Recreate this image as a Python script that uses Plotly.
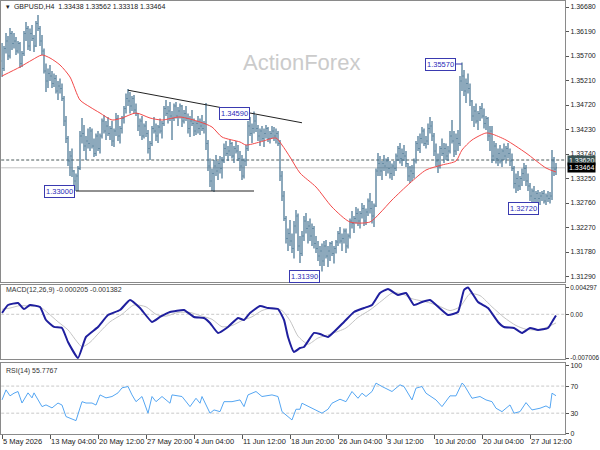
import plotly.graph_objects as go

# ---------------- DATA ----------------
# GBPUSD H4 bars, price expressed in pips above 1.30000
BASE = 1.30000
PIP = 0.0001

opens_p = [
    560, 545, 585, 600, 570, 615, 595, 600, 580, 595,
    555, 575, 615, 625, 590, 615, 605, 590, 635, 625,
    600, 580, 540, 520, 535, 530, 515, 525, 500, 510,
    505, 485, 440, 405, 360, 370, 340, 320, 330, 345,
    410, 415, 390, 400, 395, 420, 390, 375, 410, 385,
    410, 440, 420, 430, 415, 425, 400, 420, 445, 410,
    425, 445, 465, 485, 480, 470, 485, 462, 455, 430,
    440, 410, 430, 415, 385, 395, 425, 420, 410, 428,
    420, 435, 465, 455, 460, 450, 445, 470, 450, 460,
    470, 440, 455, 445, 425, 440, 435, 420, 435, 425,
    430, 425, 435, 395, 350, 320, 335, 350, 340, 355,
    345, 360, 385, 375, 380, 395, 370, 385, 380, 365,
    350, 330, 360, 385, 430, 415, 425, 440, 425, 410,
    420, 405, 415, 425, 405, 415, 420, 410, 415, 395,
    330, 290, 245, 205, 215, 200, 185, 230, 250, 190,
    175, 210, 240, 225, 230, 210, 225, 195, 185, 170,
    180, 160, 190, 170, 180, 195, 175, 185, 198, 215,
    200, 205, 220, 190, 210, 240, 235, 245, 255, 240,
    255, 265, 240, 258, 280, 265, 250, 270, 340, 355,
    340, 355, 350, 360, 345, 335, 350, 345, 370, 385,
    365, 375, 370, 355, 330, 340, 335, 360, 395, 385,
    405, 420, 395, 400, 425, 430, 410, 380, 360, 350,
    385, 375, 385, 370, 380, 410, 400, 380, 405, 395,
    520, 530, 500, 515, 505, 480, 450, 460, 440, 455,
    465, 450, 435, 445, 410, 420, 370, 390, 365, 375,
    360, 380, 370, 385, 375, 360, 345, 315, 325, 310,
    325, 335, 345, 320, 310, 290, 300, 285, 295, 285,
    290, 295, 280, 290, 285, 290, 360, 343.8,
]
highs_p = [
    596, 590, 616, 610, 626, 620, 616, 608, 600, 598,
    580, 620, 638, 630, 625, 632, 612, 640, 652, 630,
    612, 585, 555, 545, 552, 540, 535, 532, 520, 525,
    515, 490, 450, 410, 380, 385, 342, 335, 350, 420,
    446, 432, 410, 425, 428, 425, 405, 415, 420, 415,
    445, 452, 440, 448, 430, 440, 425, 456, 452, 430,
    450, 470, 495, 504, 498, 490, 492, 475, 456, 445,
    450, 435, 440, 422, 400, 430, 448, 435, 432, 445,
    440, 470, 482, 470, 478, 460, 475, 478, 468, 475,
    472, 462, 470, 455, 450, 462, 445, 440, 450, 445,
    452, 440, 476, 402, 365, 345, 362, 372, 360, 370,
    368, 395, 400, 390, 402, 398, 390, 400, 392, 380,
    372, 365, 392, 440, 448, 435, 459, 452, 432, 425,
    430, 425, 432, 428, 420, 430, 428, 425, 420, 402,
    340, 300, 250, 225, 242, 215, 240, 262, 255, 210,
    220, 250, 256, 240, 245, 235, 230, 210, 200, 190,
    195, 200, 202, 190, 198, 200, 190, 202, 220, 228,
    215, 225, 225, 215, 245, 260, 250, 268, 265, 260,
    276, 272, 265, 285, 296, 280, 275, 345, 376, 370,
    360, 372, 365, 368, 360, 355, 360, 375, 390, 396,
    385, 392, 380, 356, 350, 352, 365, 400, 410, 415,
    428, 425, 410, 435, 448, 440, 416, 395, 375, 390,
    405, 396, 395, 390, 420, 442, 420, 415, 422, 530,
    557, 542, 525, 535, 515, 482, 470, 475, 460, 470,
    476, 465, 450, 448, 430, 430, 400, 396, 385, 392,
    385, 395, 390, 396, 385, 375, 350, 335, 340, 330,
    345, 356, 352, 335, 316, 305, 310, 300, 302, 298,
    300, 302, 295, 300, 298, 382, 368, 356.2,
]
lows_p = [
    528, 540, 575, 562, 565, 582, 585, 572, 575, 546,
    548, 570, 600, 582, 580, 600, 578, 588, 620, 590,
    572, 535, 498, 506, 520, 506, 508, 495, 482, 495,
    480, 430, 396, 350, 330, 328, 305, 300, 300, 342,
    395, 380, 362, 385, 380, 385, 368, 370, 380, 375,
    405, 415, 402, 410, 402, 390, 388, 410, 400, 395,
    415, 435, 455, 470, 455, 460, 456, 450, 420, 410,
    402, 405, 408, 375, 362, 390, 415, 400, 396, 415,
    405, 430, 450, 435, 440, 402, 440, 445, 430, 445,
    428, 435, 440, 415, 408, 430, 410, 412, 415, 412,
    420, 415, 382, 340, 308, 300, 298, 330, 322, 335,
    325, 356, 370, 360, 370, 365, 356, 375, 360, 340,
    322, 325, 350, 380, 410, 396, 415, 418, 400, 390,
    400, 388, 405, 398, 395, 405, 400, 395, 390, 320,
    280, 240, 195, 180, 190, 176, 165, 215, 180, 156,
    170, 200, 215, 195, 200, 190, 185, 176, 160, 150,
    139, 150, 165, 148, 160, 170, 155, 175, 190, 195,
    180, 195, 176, 185, 205, 225, 216, 235, 230, 225,
    245, 230, 232, 250, 255, 235, 228, 268, 330, 330,
    322, 340, 330, 335, 325, 322, 330, 340, 360, 355,
    350, 360, 348, 320, 316, 320, 325, 355, 380, 376,
    395, 390, 385, 392, 415, 400, 370, 350, 336, 345,
    370, 356, 362, 360, 375, 395, 368, 372, 380, 390,
    500, 490, 476, 495, 470, 440, 428, 435, 422, 440,
    445, 425, 422, 400, 380, 356, 360, 355, 350, 355,
    348, 362, 355, 365, 350, 340, 305, 296, 300, 302,
    310, 320, 310, 300, 280, 276, 278, 275, 278, 272,
    280, 275, 272, 278, 275, 282, 330, 331.8,
]
closes_p = [
    545, 585, 600, 570, 615, 595, 600, 580, 595, 555,
    575, 615, 625, 590, 615, 605, 590, 635, 625, 600,
    580, 540, 520, 535, 530, 515, 525, 500, 510, 505,
    485, 440, 405, 360, 370, 340, 320, 330, 345, 410,
    415, 390, 400, 395, 420, 390, 375, 410, 385, 410,
    440, 420, 430, 415, 425, 400, 420, 445, 410, 425,
    445, 465, 485, 480, 470, 485, 462, 455, 430, 440,
    410, 430, 415, 385, 395, 425, 420, 410, 428, 420,
    435, 465, 455, 460, 450, 445, 470, 450, 460, 470,
    440, 455, 445, 425, 440, 435, 420, 435, 425, 430,
    425, 435, 395, 350, 320, 335, 350, 340, 355, 345,
    360, 385, 375, 380, 395, 370, 385, 380, 365, 350,
    330, 360, 385, 430, 415, 425, 440, 425, 410, 420,
    405, 415, 425, 405, 415, 420, 410, 415, 395, 330,
    290, 245, 205, 215, 200, 185, 230, 250, 190, 175,
    210, 240, 225, 230, 210, 225, 195, 185, 170, 180,
    160, 190, 170, 180, 195, 175, 185, 198, 215, 200,
    205, 220, 190, 210, 240, 235, 245, 255, 240, 255,
    265, 240, 258, 280, 265, 250, 270, 340, 355, 340,
    355, 350, 360, 345, 335, 350, 345, 370, 385, 365,
    375, 370, 355, 330, 340, 335, 360, 395, 385, 405,
    420, 395, 400, 425, 430, 410, 380, 360, 350, 385,
    375, 385, 370, 380, 410, 400, 380, 405, 395, 520,
    530, 500, 515, 505, 480, 450, 460, 440, 455, 465,
    450, 435, 445, 410, 420, 370, 390, 365, 375, 360,
    380, 370, 385, 375, 360, 345, 315, 325, 310, 325,
    335, 345, 320, 310, 290, 300, 285, 295, 285, 290,
    295, 280, 290, 285, 290, 360, 343.8, 346.4,
]

# moving average (red), read at sample bars
ma_bars = [0, 9, 15, 20, 24, 29, 34, 39, 44, 49, 55, 60, 67, 74, 80, 89, 99, 105,
           110, 119, 122, 129, 137, 140, 144, 149, 157, 165, 174, 184, 189, 195,
           204, 212, 220, 227, 230, 235, 242, 245, 252, 262, 272, 277]
ma_p = [530, 548, 562, 572, 566, 552, 528, 482, 468, 456, 442, 446, 456, 446, 442,
        448, 438, 428, 408, 398, 392, 398, 406, 392, 368, 336, 308, 268, 238, 238,
        256, 282, 316, 342, 352, 360, 382, 402, 416, 414, 402, 376, 346, 338]

# MACD(12,26,9), values in units of 1e-4
macd_bars = [0, 3, 8, 11, 14, 19, 22, 26, 30, 33, 38, 42, 48, 53, 59, 64, 69, 75, 79, 84,
             91, 96, 101, 104, 108, 113, 118, 121, 124, 129, 133, 138, 141, 143, 146, 149,
             151, 156, 159, 163, 171, 176, 181, 185, 189, 193, 198, 202, 206, 210, 214,
             223, 228, 231, 233, 238, 243, 248, 251, 256, 260, 264, 268, 273, 275, 277]
macd_e4 = [2.1, 14.9, 18.1, 8.5, 14.9, 11.7, -9.1, -20.3, -21.9, -44.4,
           -70.06, -36.3, -20.3, -1.1, 6.9, 23.0, 10.1, -12.3, -4.3, 3.7,
           6.9, -4.3, -5.9, -13.9, -29.9, -20.3, -5.9, -9.1, 2.1, 13.3,
           10.1, 8.5, -9.1, -36.3, -60.4, -54.0, -52.4, -29.9, -31.5, -36.3,
           -12.3, 3.7, 10.1, 14.9, 34.2, 40.6, 31.0, 34.2, 14.9, 19.7,
           23.0, -1.1, 3.7, 39.0, 42.97, 19.7, 10.1, -12.3, -20.3, -21.9,
           -29.9, -21.9, -25.2, -21.9, -12.3, -2.05]
signal_bars = [0, 4, 9, 14, 19, 23, 28, 33, 40, 44, 49, 54, 60, 66, 72, 77, 82, 88, 94,
               99, 105, 110, 115, 120, 125, 130, 135, 140, 144, 148, 153, 158, 164, 172,
               178, 184, 190, 195, 200, 205, 212, 218, 224, 229, 234, 239, 245, 251,
               257, 262, 268, 273, 277]
signal_e4 = [8, 10, 14, 13, 12, 2, -12, -25, -52, -45, -28, -12, 0, 15, 12, 0, -3, 3, 3,
             -2, -8, -20, -18, -10, -4, 6, 10, 6, -10, -35, -48, -38, -32, -22,
             -5, 7, 22, 34, 33, 25, 20, 14, 6, 12, 33, 30, 12, -5,
             -18, -24, -25, -20, -13.82]

# RSI(14)
rsi_bars = [0, 2, 4, 6, 8, 10, 13, 15, 16, 20, 22, 25, 28, 30, 32, 37, 40, 42, 45, 47,
            49, 52, 55, 58, 60, 63, 65, 67, 70, 73, 75, 77, 80, 84, 85, 90, 94, 97, 99,
            100, 104, 106, 109, 111, 115, 119, 121, 123, 127, 130, 135, 138, 140, 142,
            145, 147, 149, 150, 155, 160, 163, 165, 169, 172, 175, 178, 180, 182, 185,
            187, 190, 195, 199, 201, 205, 207, 210, 212, 217, 220, 224, 227, 230, 231,
            235, 239, 242, 245, 247, 250, 254, 256, 259, 262, 265, 269, 272, 274, 275, 277]
rsi_vals = [49.6, 64.4, 55.6, 59.5, 62, 45, 60, 52.6, 60, 39.7, 42.2, 37.8, 45, 42, 25, 19,
            47, 45, 45, 42, 57, 52.6, 54.6, 60, 67.4, 69.4, 57, 47, 54.6, 30, 54.6, 47,
            54.6, 44.7, 57, 54.6, 39.7, 52, 44.7, 54.6, 30, 34.8, 32.3, 47, 47, 49.6, 39.7,
            57, 62, 54.6, 57, 54.6, 32.3, 27.4, 20, 35.8, 35.8, 44.7, 37.3, 30, 35.8, 44.7,
            50.6, 47, 62, 52, 59.5, 54.6, 62, 74.4, 69.4, 62, 71.9, 69.4, 49.6, 67, 69.4,
            59.5, 49.6, 39.7, 55.6, 55.6, 74.4, 71.9, 52, 54.6, 49.6, 47, 37.3, 32.3, 42.2,
            30, 32.3, 45.6, 34.8, 37.3, 40.7, 37.3, 59.5, 55.7767]

# drawn objects on the price chart
trend_bars = [63, 150]
trend_prices = [1.35016, 1.34365]
support_bars = [37, 126]
support_prices = [1.33000, 1.33000]
level_values = [1.33000, 1.34590, 1.31390, 1.35570, 1.32720]
level_box_bars = [36.5, 124, 159, 227, 268.5]       # right edge of each label box
level_box_prices = [1.33000, 1.34550, 1.31300, 1.35540, 1.32660]
ref_line_price = 1.33620
bid_price = 1.33464

price_ticks = [1.36680, 1.36190, 1.35700, 1.35210, 1.34720, 1.34230, 1.33740,
               1.33250, 1.32760, 1.32270, 1.31780, 1.31290]
time_tick_bars = [0, 24, 48, 72, 96, 120, 144, 168, 192, 216, 240, 264]
time_tick_labels = ["5 May 2026", "13 May 04:00", "20 May 12:00", "27 May 20:00",
                    "4 Jun 04:00", "11 Jun 12:00", "18 Jun 20:00", "26 Jun 04:00",
                    "3 Jul 12:00", "10 Jul 20:00", "20 Jul 04:00", "27 Jul 12:00"]

# ---------------- FIGURE ----------------
to_price = lambda seq: [BASE + v * PIP for v in seq]
O, Hh, L, C = to_price(opens_p), to_price(highs_p), to_price(lows_p), to_price(closes_p)
bars = list(range(len(C)))
macd = [v * 1e-4 for v in macd_e4]
signal = [v * 1e-4 for v in signal_e4]

FONT = "Liberation Sans"
BAR_COLOR = "#41708f"
FRAME = "#8a8a8a"

fig = go.Figure()
fig.add_trace(go.Ohlc(x=bars, open=O, high=Hh, low=L, close=C,
                      increasing=dict(line=dict(color=BAR_COLOR, width=1.2)),
                      decreasing=dict(line=dict(color=BAR_COLOR, width=1.2)),
                      tickwidth=0.4, xaxis="x", yaxis="y", hoverinfo="skip",
                      showlegend=False))
fig.add_trace(go.Scatter(x=ma_bars, y=to_price(ma_p), mode="lines",
                         line=dict(color="#f24a4a", width=1, shape="spline", smoothing=0.7),
                         xaxis="x", yaxis="y", hoverinfo="skip", showlegend=False))
fig.add_trace(go.Scatter(x=trend_bars, y=trend_prices, mode="lines",
                         line=dict(color="#222222", width=1),
                         xaxis="x", yaxis="y", hoverinfo="skip", showlegend=False))
fig.add_trace(go.Scatter(x=support_bars, y=support_prices, mode="lines",
                         line=dict(color="#222222", width=1),
                         xaxis="x", yaxis="y", hoverinfo="skip", showlegend=False))
fig.add_trace(go.Scatter(x=signal_bars, y=signal, mode="lines",
                         line=dict(color="#c4c4c4", width=1, shape="spline", smoothing=0.6),
                         xaxis="x2", yaxis="y2", hoverinfo="skip", showlegend=False))
fig.add_trace(go.Scatter(x=macd_bars, y=macd, mode="lines",
                         line=dict(color="#1f1f9e", width=2, shape="spline", smoothing=0.4),
                         xaxis="x2", yaxis="y2", hoverinfo="skip", showlegend=False))
fig.add_trace(go.Scatter(x=rsi_bars, y=rsi_vals, mode="lines",
                         line=dict(color="#55a6f2", width=1),
                         xaxis="x3", yaxis="y3", hoverinfo="skip", showlegend=False))

W, H = 600, 450
x_dom = [1.2 / W, 565 / W]
price_dom = [(H - 282) / H, (H - 1) / H]
macd_dom = [(H - 359) / H, (H - 285) / H]
rsi_dom = [(H - 433.5) / H, (H - 363) / H]
x_range = [-0.4, 281.5]

common_x = dict(range=x_range, domain=x_dom, showgrid=False, zeroline=False,
                showline=True, mirror=True, linecolor=FRAME, linewidth=1,
                automargin=False, tickangle=0)
tickfont = dict(family=FONT, size=7, color="#222222")
common_y = dict(side="right", showgrid=False, zeroline=False, showline=True,
                mirror=True, linecolor=FRAME, linewidth=1, ticks="outside",
                ticklen=3, tickcolor="#555555", automargin=False)

fig.update_layout(
    width=W, height=H, margin=dict(l=0, r=0, t=0, b=0, autoexpand=False),
    paper_bgcolor="white", plot_bgcolor="white", showlegend=False,
    xaxis=dict(**common_x, anchor="y", showticklabels=False, rangeslider=dict(visible=False)),
    xaxis2=dict(**common_x, anchor="y2", matches="x", showticklabels=False),
    xaxis3=dict(**common_x, anchor="y3", matches="x", ticks="outside", ticklen=4,
                tickcolor="#555555", tickvals=time_tick_bars, ticktext=time_tick_labels,
                ticklabelposition="outside right",
                tickfont=dict(family=FONT, size=7.5, color="#222222")),
    yaxis=dict(**common_y, anchor="x", domain=price_dom, range=[1.3118, 1.3680],
               tickvals=price_ticks, tickformat=".5f", tickfont=tickfont),
    yaxis2=dict(**common_y, anchor="x2", domain=macd_dom, range=[-0.0071663, 0.0046978],
                tickvals=[max(macd), 0, min(macd)],
                ticktext=[f"{max(macd):.6f}", "0.00", f"{min(macd):.6f}"],
                tickfont=dict(family=FONT, size=6.4, color="#222222")),
    yaxis3=dict(**common_y, anchor="x3", domain=rsi_dom, range=[0, 104.1],
                tickvals=[100, 70, 30, 0], tickfont=tickfont),
)

shapes = [
    dict(type="line", xref="paper", yref="y", x0=x_dom[0], x1=x_dom[1],
         y0=bid_price, y1=bid_price, line=dict(color="#c4c4c4", width=1), layer="below"),
    dict(type="line", xref="paper", yref="y", x0=x_dom[0], x1=x_dom[1],
         y0=ref_line_price, y1=ref_line_price,
         line=dict(color="#4a5a5a", width=1, dash="3px,2px"), layer="below"),
    dict(type="line", xref="paper", yref="y2", x0=x_dom[0], x1=x_dom[1], y0=0, y1=0,
         line=dict(color="#c8c8c8", width=1, dash="3px,2px"), layer="below"),
    dict(type="line", xref="paper", yref="y3", x0=x_dom[0], x1=x_dom[1], y0=70, y1=70,
         line=dict(color="#c8c8c8", width=1, dash="3px,2px"), layer="below"),
    dict(type="line", xref="paper", yref="y3", x0=x_dom[0], x1=x_dom[1], y0=30, y1=30,
         line=dict(color="#c8c8c8", width=1, dash="3px,2px"), layer="below"),
    dict(type="line", xref="x", yref="y", x0=level_box_bars[3], x1=230,
         y0=level_box_prices[3], y1=level_box_prices[3],
         line=dict(color="#3a3ab0", width=1)),
]
fig.update_layout(shapes=shapes)

ann = []
NB = "\u00a0"
header = (f"\u25BE{NB}{NB}GBPUSD,H4{NB}{NB}{O[-1]:.5f}{NB}{Hh[-1]:.5f}{NB}"
          f"{L[-1]:.5f}{NB}{C[-1]:.5f}")
ann.append(dict(text=header, xref="paper", yref="paper", x=4 / W, y=(H - 7) / H,
                xanchor="left", yanchor="middle", showarrow=False,
                font=dict(family=FONT, size=7, color="#222222")))
ann.append(dict(text=f"MACD(12,26,9){NB}{macd[-1]:.6f}{NB}{signal[-1]:.6f}",
                xref="paper", yref="paper", x=4 / W, y=(H - 290) / H,
                xanchor="left", yanchor="middle", showarrow=False,
                font=dict(family=FONT, size=7, color="#333333")))
ann.append(dict(text=f"RSI(14){NB}{rsi_vals[-1]:.4f}",
                xref="paper", yref="paper", x=4 / W, y=(H - 371) / H,
                xanchor="left", yanchor="middle", showarrow=False,
                font=dict(family=FONT, size=7, color="#333333")))
ann.append(dict(text="ActionForex", xref="paper", yref="paper", x=301 / W, y=(H - 62) / H,
                xanchor="center", yanchor="middle", showarrow=False,
                font=dict(family=FONT, size=22, color="#cbcbcb")))
for v, bx, by in zip(level_values, level_box_bars, level_box_prices):
    ann.append(dict(text=f"{v:.5f}", xref="x", yref="y", x=bx, y=by,
                    xanchor="right", yanchor="middle", showarrow=False,
                    font=dict(family=FONT, size=7.5, color="#2a2ab8"),
                    bgcolor="white", bordercolor="#3a3ab0", borderwidth=1, borderpad=1))
ann.append(dict(text=f"{ref_line_price:.5f}", xref="paper", yref="y", x=566.5 / W,
                y=ref_line_price, xanchor="left", yanchor="middle", showarrow=False,
                font=dict(family=FONT, size=7, color="white"),
                bgcolor="#3a5454", borderpad=1))
ann.append(dict(text=f"{bid_price:.5f}", xref="paper", yref="y", x=566.5 / W,
                y=bid_price, xanchor="left", yanchor="middle", showarrow=False,
                font=dict(family=FONT, size=7, color="white"),
                bgcolor="black", borderpad=1))
fig.update_layout(annotations=ann)

fig.write_html("out.html")
